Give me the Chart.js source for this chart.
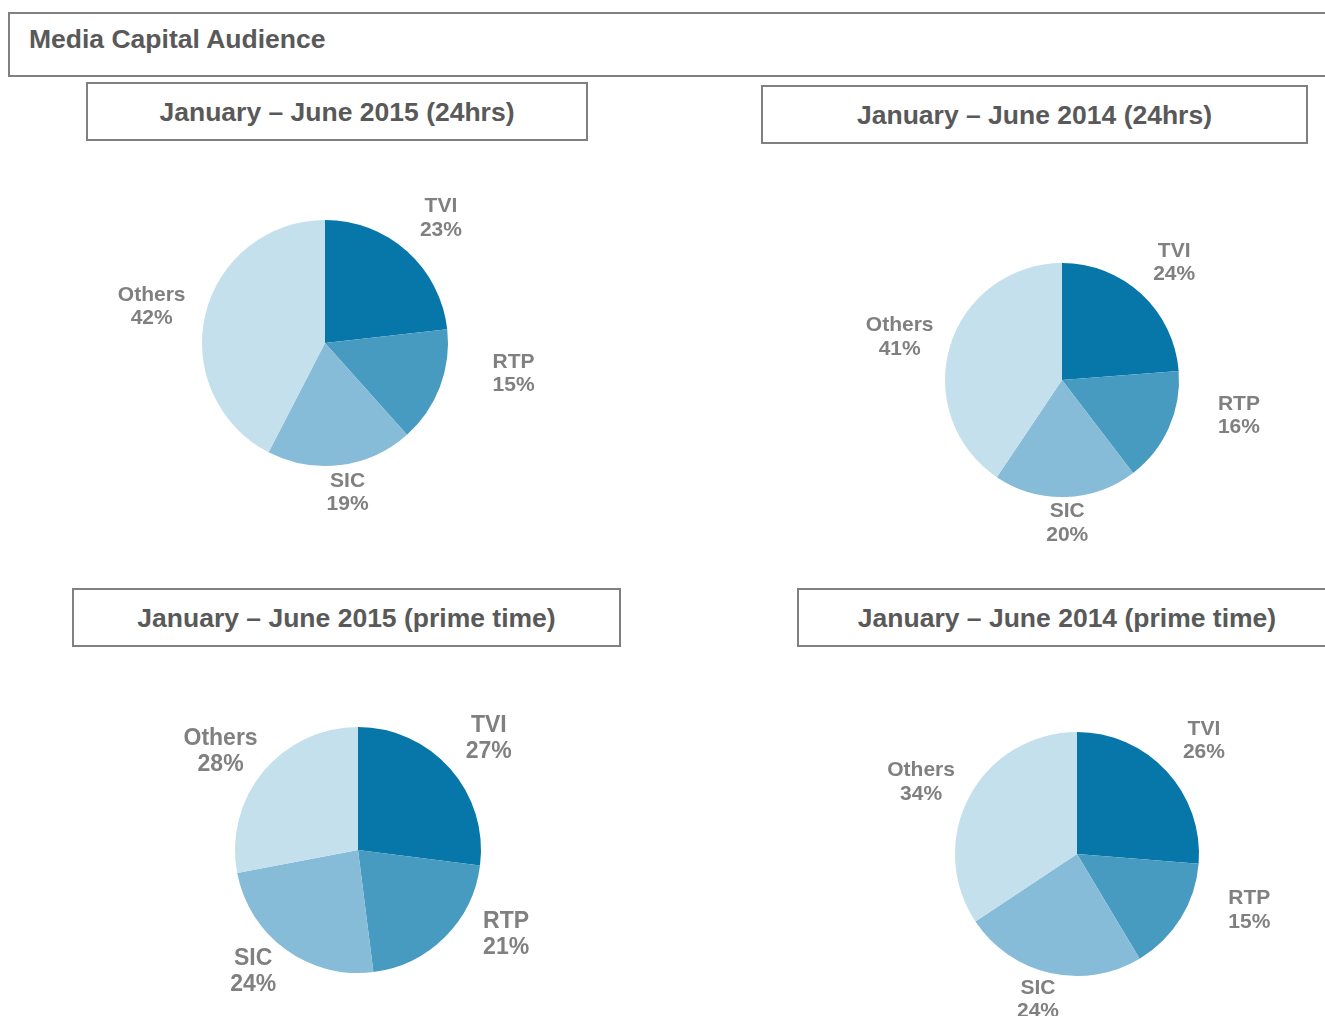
<!DOCTYPE html>
<html>
<head>
<meta charset="utf-8">
<script src="https://cdn.jsdelivr.net/npm/chart.js@4"></script>
<style>
  body { margin: 0; background: #fff; }
  #page { position: relative; width: 1325px; height: 1016px; overflow: hidden; background: #fff; }
  .box { position: absolute; box-sizing: border-box; border: 2px solid #808080; background: #fff;
         font-family: "Liberation Sans", Arial, sans-serif; font-weight: bold; color: #595959;
         font-size: 26.5px; line-height: 30px; }
  .title { display: flex; align-items: center; justify-content: center; }
  .header { padding-left: 19px; padding-top: 10px; }
  canvas { position: absolute; }
</style>
</head>
<body>
<div id="page">
  <div class="box header" style="left:8px;top:12px;width:1340px;height:65px;">Media Capital Audience</div>
  <div class="box title" style="left:86px;top:82px;width:502px;height:59px;">January – June 2015 (24hrs)</div>
  <div class="box title" style="left:761px;top:85px;width:547px;height:59px;">January – June 2014 (24hrs)</div>
  <div class="box title" style="left:72px;top:588px;width:549px;height:59px;">January – June 2015 (prime time)</div>
  <div class="box title" style="left:797px;top:588px;width:540px;height:59px;">January – June 2014 (prime time)</div>
  <canvas id="pie1" width="600" height="500"></canvas>
  <canvas id="pie2" width="600" height="500"></canvas>
  <canvas id="pie3" width="600" height="500"></canvas>
  <canvas id="pie4" width="600" height="500"></canvas>
</div>
<script>
// channels, clockwise from 12 o'clock
const channels = ['TVI', 'RTP', 'SIC', 'Others'];
const colors = ['#0776a8', '#479bc1', '#86bcd7', '#c4e0ec'];

// audience share (%)
const share2015Day = [23, 15, 19, 42];
const share2014Day = [24, 16, 20, 41];
const share2015Prime = [27, 21, 24, 28];
const share2014Prime = [26, 15, 24, 34];

// small manual shifts of the labels, as in the original slide
const labelNudge = [[-3, -10], [22, -24], [0, -3], [0, 0]];

// labels outside each slice, placed along the slice's mid angle
const outsideLabels = {
    id: 'outsideLabels',
    afterDatasetsDraw(chart, args, opts) {
        const ctx = chart.ctx;
        const meta = chart.getDatasetMeta(0);
        const values = chart.data.datasets[0].data;
        ctx.save();
        ctx.fillStyle = '#808080';
        ctx.textAlign = 'center';
        ctx.textBaseline = 'middle';
        ctx.font = 'bold ' + opts.size + 'px "Liberation Sans", Arial, sans-serif';
        meta.data.forEach((arc, i) => {
            const mid = (arc.startAngle + arc.endAngle) / 2;
            const r = arc.outerRadius;
            const x = arc.x + Math.cos(mid) * r * 1.45 + opts.nudge[i][0];
            const y = arc.y + Math.sin(mid) * r * 1.25 + opts.nudge[i][1];
            const lh = opts.size * 1.12;
            ctx.fillText(chart.data.labels[i], x, y - lh / 2);
            ctx.fillText(values[i] + '%', x, y + lh / 2);
        });
        ctx.restore();
    }
};

function makePie(id, values, cx, cy, radius, size) {
    const canvas = document.getElementById(id);
    canvas.style.left = (cx - 300) + 'px';
    canvas.style.top = (cy - 250) + 'px';
    new Chart(canvas, {
        type: 'pie',
        data: {
            labels: channels,
            datasets: [{
                data: values,
                backgroundColor: colors,
                borderWidth: 0
            }]
        },
        options: {
            responsive: false,
            animation: false,
            devicePixelRatio: 1,
            layout: {
                padding: { left: 300 - radius, right: 300 - radius, top: 250 - radius, bottom: 250 - radius }
            },
            plugins: {
                legend: { display: false },
                tooltip: { enabled: false },
                outsideLabels: { size: size, nudge: labelNudge }
            }
        },
        plugins: [outsideLabels]
    });
}

makePie('pie1', share2015Day, 325, 343, 123, 21);
makePie('pie2', share2014Day, 1062, 380, 117, 21);
makePie('pie3', share2015Prime, 358, 850, 123, 23);
makePie('pie4', share2014Prime, 1077, 854, 122, 21);
</script>
</body>
</html>
